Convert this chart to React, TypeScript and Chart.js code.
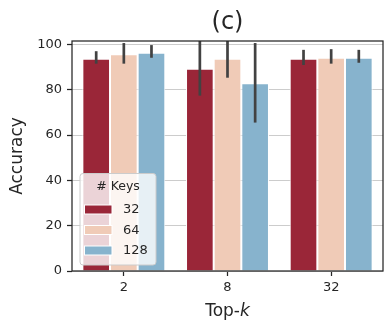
import React, { useEffect, useRef } from "react";
import { Chart, registerables } from "chart.js";

Chart.register(...registerables);

const categories = ["2", "8", "32"];
const seriesLabels = ["32", "64", "128"];
const seriesColors = ["#9a2638", "#f0cbb7", "#87b3cd"];
const values32 = [93.7, 89.3, 93.7];
const values64 = [95.6, 93.7, 94.1];
const values128 = [96.3, 82.8, 94.1];
const low32 = [91.5, 77.4, 90.9];
const high32 = [97.0, 102.5, 97.6];
const low64 = [91.5, 85.3, 91.5];
const high64 = [100.6, 102.5, 97.9];
const low128 = [94.1, 65.5, 91.9];
const high128 = [99.7, 100.6, 97.6];
const yTicks = [0, 20, 40, 60, 80, 100];

const FONT = "'DejaVu Sans', sans-serif";
const DARK = "#262626";

export default function App() {
  const ref = useRef<HTMLCanvasElement | null>(null);
  useEffect(() => {
    document.body.style.margin = "0";
    const canvas = ref.current!;
    const lows = [low32, low64, low128];
    const highs = [high32, high64, high128];
    const vals = [values32, values64, values128];

    const overlay = {
      id: "overlay",
      afterDatasetsDraw(chart: any) {
        const ctx = chart.ctx;
        const a = chart.chartArea;
        const ys = chart.scales.y;
        ctx.save();
        ctx.beginPath();
        ctx.rect(a.left, a.top, a.right - a.left, a.bottom - a.top);
        ctx.clip();
        ctx.strokeStyle = "#424242";
        ctx.lineWidth = 2.7;
        ctx.lineCap = "butt";
        for (let i = 0; i < vals.length; i++) {
          const meta = chart.getDatasetMeta(i);
          meta.data.forEach((el: any, j: number) => {
            ctx.beginPath();
            ctx.moveTo(el.x, ys.getPixelForValue(lows[i][j]));
            ctx.lineTo(el.x, ys.getPixelForValue(highs[i][j]));
            ctx.stroke();
          });
        }
        ctx.restore();
        ctx.save();
        ctx.strokeStyle = DARK;
        ctx.lineWidth = 1.25;
        ctx.strokeRect(a.left, a.top, a.right - a.left, a.bottom - a.top);
        ctx.restore();
      },
      afterDraw(chart: any) {
        const ctx = chart.ctx;
        const a = chart.chartArea;
        ctx.save();
        ctx.fillStyle = DARK;
        ctx.textAlign = "center";
        ctx.textBaseline = "middle";
        ctx.font = `24px ${FONT}`;
        ctx.fillText("(c)", (a.left + a.right) / 2, 23);
        ctx.save();
        ctx.translate(18, (a.top + a.bottom) / 2);
        ctx.rotate(-Math.PI / 2);
        ctx.font = `17px ${FONT}`;
        ctx.fillText("Accuracy", 0, 0);
        ctx.restore();
        const t1 = "Top-";
        const t2 = "k";
        ctx.font = `17px ${FONT}`;
        const w1 = ctx.measureText(t1).width;
        ctx.font = `italic 17px ${FONT}`;
        const w2 = ctx.measureText(t2).width;
        const cx = (a.left + a.right) / 2;
        const x0 = cx - (w1 + w2) / 2;
        ctx.textAlign = "left";
        ctx.font = `17px ${FONT}`;
        ctx.fillText(t1, x0, 312);
        ctx.font = `italic 17px ${FONT}`;
        ctx.fillText(t2, x0 + w1, 312);

        const lx = 80, ly = 173.5, lw = 76, lh = 91.5, r = 3;
        ctx.beginPath();
        ctx.moveTo(lx + r, ly);
        ctx.lineTo(lx + lw - r, ly);
        ctx.quadraticCurveTo(lx + lw, ly, lx + lw, ly + r);
        ctx.lineTo(lx + lw, ly + lh - r);
        ctx.quadraticCurveTo(lx + lw, ly + lh, lx + lw - r, ly + lh);
        ctx.lineTo(lx + r, ly + lh);
        ctx.quadraticCurveTo(lx, ly + lh, lx, ly + lh - r);
        ctx.lineTo(lx, ly + r);
        ctx.quadraticCurveTo(lx, ly, lx + r, ly);
        ctx.closePath();
        ctx.fillStyle = "rgba(255,255,255,0.8)";
        ctx.fill();
        ctx.strokeStyle = "#cccccc";
        ctx.lineWidth = 1;
        ctx.stroke();
        ctx.fillStyle = DARK;
        ctx.textAlign = "center";
        ctx.font = `12.5px ${FONT}`;
        ctx.fillText("# Keys", lx + lw / 2, 186.5);
        const rows = [209.5, 230, 250.5];
        seriesLabels.forEach((lab, i) => {
          ctx.fillStyle = seriesColors[i];
          ctx.fillRect(84.5, rows[i] - 4.5, 27.5, 9);
          ctx.strokeStyle = "#ffffff";
          ctx.lineWidth = 1;
          ctx.strokeRect(84.5, rows[i] - 4.5, 27.5, 9);
          ctx.fillStyle = DARK;
          ctx.textAlign = "left";
          ctx.font = `13px ${FONT}`;
          ctx.fillText(lab, 123, rows[i] + 0.5);
        });
        ctx.restore();
      },
    };

    const chart = new Chart(canvas, {
      type: "bar",
      data: {
        labels: categories,
        datasets: vals.map((v, i) => ({
          label: seriesLabels[i],
          data: v,
          backgroundColor: seriesColors[i],
          borderColor: "#ffffff",
          borderWidth: 1,
          categoryPercentage: 0.8,
          barPercentage: 1.0,
        })),
      },
      options: {
        animation: false,
        responsive: false,
        maintainAspectRatio: false,
        layout: { padding: { top: 41, right: 8, left: 0, bottom: 0 } },
        plugins: {
          legend: { display: false },
          title: { display: false },
          tooltip: { enabled: false },
        },
        scales: {
          x: {
            grid: {
              display: true,
              offset: false,
              drawOnChartArea: false,
              drawTicks: true,
              tickLength: 5,
              tickColor: DARK,
              tickWidth: 1.25,
            },
            border: { display: false },
            ticks: {
              color: DARK,
              font: { family: FONT, size: 13 },
              padding: 4,
              maxRotation: 0,
            },
            afterFit(scale: any) {
              scale.height = 63;
            },
          },
          y: {
            min: 0,
            max: 101.5,
            afterBuildTicks(scale: any) {
              scale.ticks = yTicks.map((v) => ({ value: v }));
            },
            grid: {
              color: "#cccccc",
              lineWidth: 1,
              tickLength: 5,
              tickColor: DARK,
              tickWidth: 1.25,
            },
            border: { display: false },
            ticks: {
              color: DARK,
              font: { family: FONT, size: 13 },
              padding: 5,
            },
            afterFit(scale: any) {
              scale.width = 72;
            },
          },
        },
      },
      plugins: [overlay],
    });
    return () => chart.destroy();
  }, []);
  return (
    <div style={{ width: 391, height: 334 }}>
      <canvas ref={ref} width={391} height={334} style={{ display: "block" }} />
    </div>
  );
}
